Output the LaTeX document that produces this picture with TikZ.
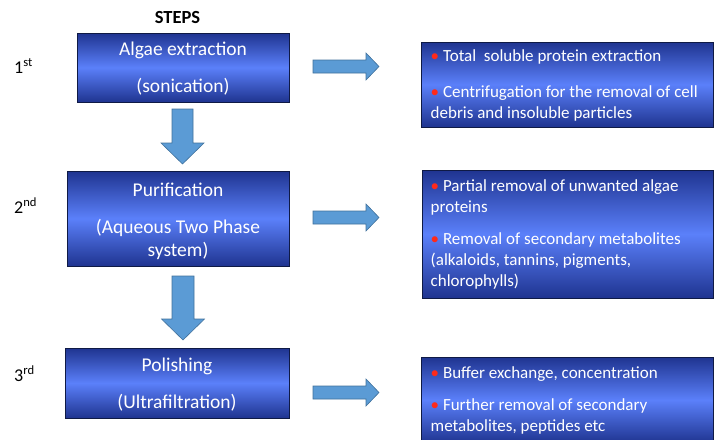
\documentclass[tikz,border=0pt]{standalone}
\usepackage{fontspec}
\setmainfont{Carlito}
\definecolor{boxdark}{HTML}{1F3490}
\definecolor{boxlight}{HTML}{5B80FA}
\definecolor{boxline}{HTML}{0F1A45}
\definecolor{arrowfill}{HTML}{5B9BD5}
\definecolor{arrowline}{HTML}{41719C}
\definecolor{bulletred}{HTML}{FF2A1A}
\tikzset{
  shadedbox/.style={draw=boxline, line width=1pt, top color=boxdark, bottom color=boxdark, middle color=boxlight, inner sep=0pt},
  steptext/.style={align=center, inner sep=0pt, text=white, font=\fontsize{19.5}{23}\selectfont},
  notetext/.style={anchor=west, align=left, inner sep=0pt, text=white, font=\fontsize{17}{21}\selectfont},
  blockarrow/.style={fill=arrowfill, draw=arrowline, line width=0.6pt, line join=miter},
  steplabel/.style={anchor=base west, inner sep=0pt, font=\fontsize{18}{20}\selectfont},
}
\newcommand{\redbul}{\textcolor{bulletred}{•}\ }
\begin{document}
\begin{tikzpicture}[x=1pt,y=-1pt]
\useasboundingbox (0,0) rectangle (714,439);

% title
\node[anchor=base, inner sep=0pt, font=\fontsize{18.5}{20}\selectfont\bfseries] (title) at (177.5,23) {STEPS};

% step labels
\node[steplabel] (l1) at (14,73) {1\textsuperscript{st}};
\node[steplabel] (l2) at (14,213) {2\textsuperscript{nd}};
\node[steplabel] (l3) at (14,381) {3\textsuperscript{rd}};

% step boxes
\node[shadedbox, minimum width=212pt, minimum height=69pt] (s1) at (183,67.5) {};
\node[steptext] (s1t) at ([yshift=-1.5pt]s1.center) {Algae extraction\\[14pt](sonication)};
\node[shadedbox, minimum width=222pt, minimum height=95pt] (s2) at (178,218.5) {};
\node[steptext] (s2t) at ([yshift=-2.5pt]s2.center) {Purification\\[14pt](Aqueous Two Phase\\system)};
\node[shadedbox, minimum width=224pt, minimum height=70pt] (s3) at (177,383) {};
\node[steptext] (s3t) at ([yshift=-2pt]s3.center) {Polishing\\[14pt](Ultrafiltration)};

% note boxes
\node[shadedbox, minimum width=292pt, minimum height=85pt] (n1) at (567,84.5) {};
\node[notetext] (t1) at ([xshift=10pt,yshift=-1pt]n1.west) {\redbul Total\ \ soluble protein extraction\\[15pt]\redbul Centrifugation for the removal of cell\\debris and insoluble particles};
\node[shadedbox, minimum width=291pt, minimum height=128pt] (n2) at (567.5,234) {};
\node[notetext] (t2) at ([xshift=9pt]n2.west) {\redbul Partial removal of unwanted algae\\proteins\\[11pt]\redbul Removal of secondary metabolites\\(alkaloids, tannins, pigments,\\chlorophylls)};
\node[shadedbox, minimum width=292pt, minimum height=86pt] (n3) at (567,400) {};
\node[notetext] (t3) at ([xshift=10pt]n3.west) {\redbul Buffer exchange, concentration\\[11pt]\redbul Further removal of secondary\\metabolites, peptides etc};

% vertical block arrows
\draw[blockarrow] (172,109) -- (193,109) -- (193,143) -- (204,143) -- (182.5,164) -- (161,143) -- (172,143) -- cycle;
\draw[blockarrow] (172,276) -- (194,276) -- (194,319) -- (204.5,319) -- (183,340) -- (161.5,319) -- (172,319) -- cycle;

% horizontal block arrows
\draw[blockarrow] (313,60) -- (366,60) -- (366,53) -- (379,66.5) -- (366,80) -- (366,73) -- (313,73) -- cycle;
\draw[blockarrow] (313,211) -- (366,211) -- (366,204) -- (379,217.5) -- (366,231) -- (366,224) -- (313,224) -- cycle;
\draw[blockarrow] (313,386) -- (366,386) -- (366,379) -- (379,392.5) -- (366,406) -- (366,399) -- (313,399) -- cycle;
\end{tikzpicture}
\end{document}
